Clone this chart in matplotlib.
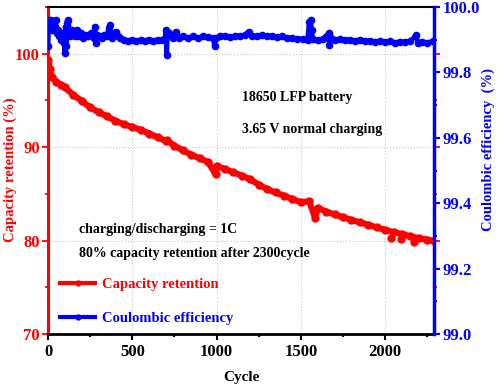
import matplotlib.pyplot as plt
from matplotlib.ticker import MultipleLocator
from matplotlib.lines import Line2D

# capacity retention (%)
cap_cycles = [0, 10, 25, 50, 75, 100, 150, 200, 250, 300, 350, 400, 450, 500,
              550, 600, 650, 700, 706, 750, 800, 850, 900, 950, 994, 1000, 1050,
              1100, 1150, 1200, 1250, 1300, 1350, 1400, 1450, 1500, 1550, 1585,
              1600, 1650, 1700, 1750, 1800, 1850, 1900, 1950, 2000, 2050, 2100,
              2150, 2200, 2250, 2290]
cap_values = [99.3, 98.4, 97.5, 97.0, 96.7, 96.4, 95.6, 94.95, 94.25, 93.75, 93.3,
              92.8, 92.45, 92.15, 91.85, 91.45, 91.05, 90.65, 90.75, 90.15, 89.65,
              89.2, 88.8, 88.4, 87.1, 88.0, 87.65, 87.3, 86.95, 86.55, 86.0, 85.5,
              85.15, 84.8, 84.45, 84.1, 84.2, 82.4, 83.5, 83.1, 82.8, 82.5, 82.2,
              81.95, 81.7, 81.4, 81.15, 80.9, 80.7, 80.45, 80.25, 80.1, 79.95]
cap_out_cycles = [2035, 2094, 2174]
cap_out_values = [80.3, 80.2, 79.8]

# coulombic efficiency (%)
ce_cycles = [0, 4, 8, 14, 20, 26, 32, 40, 46, 52, 60, 66, 72, 80, 88, 96, 100, 104,
             108, 114, 120, 126, 132, 140, 150, 160, 170, 180, 195, 210, 225, 240,
             255, 270, 278, 284, 292, 305, 320, 335, 350, 360, 366, 372, 380, 395,
             405, 415, 430, 450, 475, 500, 525, 550, 575, 600, 625, 650, 675, 695,
             700, 704, 708, 720, 740, 760, 780, 800, 830, 860, 890, 920, 950, 980,
             988, 995, 1020, 1050, 1080, 1110, 1140, 1170, 1190, 1210, 1240, 1270,
             1300, 1330, 1360, 1390, 1420, 1450, 1480, 1510, 1540, 1550, 1558, 1564,
             1570, 1600, 1630, 1665, 1670, 1678, 1700, 1730, 1760, 1790, 1820, 1850,
             1880, 1910, 1940, 1970, 2000, 2030, 2060, 2090, 2120, 2150, 2185, 2195,
             2220, 2250, 2285]
ce_values = [99.88, 99.95, 99.96, 99.94, 99.96, 99.93, 99.95, 99.94, 99.96, 99.92,
             99.93, 99.91, 99.92, 99.90, 99.92, 99.89, 99.86, 99.94, 99.88, 99.95,
             99.96, 99.93, 99.91, 99.93, 99.92, 99.91, 99.93, 99.91, 99.92, 99.905,
             99.915, 99.91, 99.92, 99.905, 99.94, 99.89, 99.915, 99.91, 99.905,
             99.915, 99.91, 99.935, 99.945, 99.92, 99.905, 99.92, 99.925, 99.91,
             99.905, 99.90, 99.895, 99.90, 99.895, 99.90, 99.897, 99.90, 99.897,
             99.90, 99.90, 99.905, 99.93, 99.853, 99.915, 99.92, 99.905, 99.925,
             99.905, 99.91, 99.905, 99.91, 99.905, 99.91, 99.908, 99.905, 99.88,
             99.905, 99.91, 99.912, 99.908, 99.912, 99.91, 99.915, 99.925, 99.912,
             99.91, 99.913, 99.91, 99.912, 99.908, 99.91, 99.906, 99.905, 99.902,
             99.903, 99.90, 99.955, 99.96, 99.93, 99.902, 99.90, 99.902, 99.92,
             99.884, 99.905, 99.90, 99.902, 99.898, 99.90, 99.897, 99.90, 99.895,
             99.897, 99.893, 99.895, 99.892, 99.895, 99.891, 99.894, 99.892, 99.895,
             99.915, 99.89, 99.893, 99.891, 99.895]

RED = '#ff0000'
BLUE = '#0000ff'
plt.rcParams['font.family'] = ['Liberation Serif', 'DejaVu Serif']
plt.rcParams['font.weight'] = 'bold'

fig = plt.figure(figsize=(4.98, 3.88), dpi=100)
ax1 = fig.add_axes([48 / 498, 54 / 388, 386 / 498, 327 / 388])
ax2 = ax1.twinx()

ax1.plot(cap_cycles, cap_values, color=RED, lw=4.5, marker='o', ms=5,
         mec=RED, mfc=RED, zorder=3)
ax1.plot(cap_out_cycles, cap_out_values, 'o', color=RED, ms=5, zorder=3)
ax2.plot(ce_cycles, ce_values, color=BLUE, lw=3.5, marker='o', ms=4.5,
         mec=BLUE, mfc=BLUE, zorder=3)

ax1.set_xlim(0, 2290)
ax1.set_ylim(70, 105)
ax2.set_ylim(99.0, 100.0)

ax1.xaxis.set_major_locator(MultipleLocator(500))
ax1.xaxis.set_minor_locator(MultipleLocator(250))
ax1.yaxis.set_major_locator(MultipleLocator(10))
ax1.yaxis.set_minor_locator(MultipleLocator(5))
ax2.yaxis.set_major_locator(MultipleLocator(0.2))
ax2.yaxis.set_minor_locator(MultipleLocator(0.1))
ax2.yaxis.set_major_formatter(plt.FormatStrFormatter('%.1f'))

ax1.grid(True, which='major', ls=':', color='#c8c8c8', lw=0.8)
ax1.set_axisbelow(True)

ax1.spines['left'].set_color(RED)
ax1.spines['left'].set_linewidth(2.2)
ax1.spines['right'].set_visible(False)
ax1.spines['bottom'].set_linewidth(2)
ax1.spines['top'].set_linewidth(1.5)
for s in ['left', 'top', 'bottom']:
    ax2.spines[s].set_visible(False)
ax2.spines['right'].set_color(BLUE)
ax2.spines['right'].set_linewidth(2.5)

ax1.tick_params(axis='x', which='major', direction='out', length=4, width=1.5,
                labelsize=12, pad=3)
ax1.tick_params(axis='x', which='minor', direction='out', length=2.5, width=1.5)
ax1.tick_params(axis='y', which='both', colors=RED, right=True, labelright=False,
                direction='out', width=1.3)
ax1.tick_params(axis='y', which='major', length=4, labelsize=12, pad=2)
ax1.tick_params(axis='y', which='minor', length=2)
ax2.tick_params(axis='y', which='both', colors=BLUE, direction='out', width=1.5)
ax2.tick_params(axis='y', which='major', length=4, labelsize=12, pad=2)
ax2.tick_params(axis='y', which='minor', length=2.5)

ax1.set_xlabel('Cycle', fontsize=11, fontweight='bold', labelpad=8)
fig.text(10.5 / 498, 1 - 170 / 388, 'Capacity retention (%)', fontsize=10.5,
         fontweight='bold', color=RED, rotation=90, ha='center', va='center')
fig.text(488 / 498, 1 - 150 / 388, 'Coulombic efficiency  (%)', fontsize=10.5,
         fontweight='bold', color=BLUE, rotation=90, ha='center', va='center')

fig.text(242 / 498, 1 - 98 / 388, '18650 LFP battery', fontsize=10,
         fontweight='bold', va='center')
fig.text(242 / 498, 1 - 130 / 388, '3.65 V normal charging', fontsize=10,
         fontweight='bold', va='center')
fig.text(79 / 498, 1 - 229 / 388, 'charging/discharging = 1C', fontsize=10,
         fontweight='bold', va='center')
fig.text(79 / 498, 1 - 253 / 388, '80% capacity retention after 2300cycle',
         fontsize=10, fontweight='bold', va='center')

handles = [Line2D([], [], color=RED, lw=3, marker='o', ms=3.5),
           Line2D([], [], color=BLUE, lw=3, marker='o', ms=3.5)]
leg = ax2.legend(handles, ['Capacity retention', 'Coulombic efficiency'],
                 loc='center left', bbox_to_anchor=(60 / 498, 1 - 301.5 / 388),
                 bbox_transform=fig.transFigure, frameon=False, fontsize=10.5,
                 handlelength=2.4, handletextpad=0.45, labelspacing=1.45,
                 borderpad=0, borderaxespad=0, labelcolor='linecolor')

fig.savefig('out.png', dpi=100)
